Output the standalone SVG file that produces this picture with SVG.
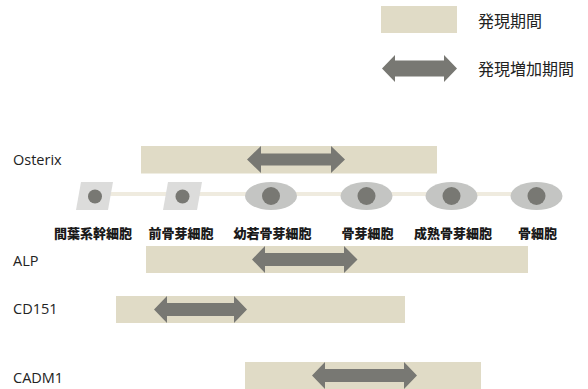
<svg xmlns="http://www.w3.org/2000/svg" width="588" height="389" viewBox="0 0 588 389">
  <style>
    .bar { fill: #e0dbc6; }
    .arr { fill: #787873; }
    .para { fill: #dcdcdb; }
    .oval { fill: #c4c5c3; }
    .nuc { fill: #787873; }
    .link { stroke: #efebdf; stroke-width: 4; fill: none; }
    .gene { font-family: "Open Sans", "Liberation Sans", sans-serif; font-size: 14.5px; fill: #222; }
    .legend { font-family: "Noto Sans CJK JP", sans-serif; font-size: 16px; fill: #222; }
    .cell { font-family: "Noto Sans CJK JP", sans-serif; font-size: 13px; font-weight: 900; fill: #1a1a1a; text-anchor: middle; }
  </style>

  <!-- legend -->
  <g id="legend-period">
    <rect class="bar" x="381" y="6" width="76" height="27"/>
    <text class="legend" x="478" y="26.5">発現期間</text>
  </g>
  <g id="legend-increase">
    <polygon class="arr" points="382,68.5 395,55 395,60.5 444,60.5 444,55 457,68.5 444,82 444,76.5 395,76.5 395,82"/>
    <text class="legend" x="478" y="75">発現増加期間</text>
  </g>

  <!-- differentiation line between cells -->
  <g id="connectors">
    <line class="link" x1="110" y1="194" x2="512" y2="194"/>
  </g>

  <!-- cell stages -->
  <g id="cell-msc">
    <polygon class="para" points="81,182 113,182 108,210 76,210"/>
    <circle class="nuc" cx="95" cy="196.5" r="7"/>
    <text class="cell" x="93" y="238">間葉系幹細胞</text>
  </g>
  <g id="cell-preob">
    <polygon class="para" points="168,182 202,182 197,210 163,210"/>
    <circle class="nuc" cx="182.5" cy="196.5" r="7"/>
    <text class="cell" x="181" y="238">前骨芽細胞</text>
  </g>
  <g id="cell-immature">
    <ellipse class="oval" cx="271" cy="196" rx="26" ry="14"/>
    <circle class="nuc" cx="271" cy="196" r="9"/>
    <text class="cell" x="272.5" y="238">幼若骨芽細胞</text>
  </g>
  <g id="cell-ob">
    <ellipse class="oval" cx="366.5" cy="196" rx="26" ry="14"/>
    <circle class="nuc" cx="366.5" cy="196" r="9"/>
    <text class="cell" x="367.5" y="238">骨芽細胞</text>
  </g>
  <g id="cell-mature">
    <ellipse class="oval" cx="451.5" cy="196" rx="26" ry="14"/>
    <circle class="nuc" cx="451.5" cy="196" r="9"/>
    <text class="cell" x="453" y="238">成熟骨芽細胞</text>
  </g>
  <g id="cell-osteocyte">
    <ellipse class="oval" cx="536.5" cy="196" rx="26" ry="14"/>
    <circle class="nuc" cx="536.5" cy="196" r="9"/>
    <text class="cell" x="537.5" y="238">骨細胞</text>
  </g>

  <!-- gene expression rows -->
  <g id="gene-osterix">
    <text class="gene" x="13" y="165">Osterix</text>
    <rect class="bar" x="141" y="146" width="296" height="27.5"/>
    <polygon class="arr" points="247,159.5 261,146 261,153.5 331,153.5 331,146 345,159.5 331,173 331,165.5 261,165.5 261,173"/>
  </g>
  <g id="gene-alp">
    <text class="gene" x="13" y="266">ALP</text>
    <rect class="bar" x="146" y="246" width="382" height="27"/>
    <polygon class="arr" points="252,259.5 265,246 265,253 344,253 344,246 357.5,259.5 344,273 344,266 265,266 265,273"/>
  </g>
  <g id="gene-cd151">
    <text class="gene" x="13" y="314">CD151</text>
    <rect class="bar" x="116" y="296" width="289" height="27"/>
    <polygon class="arr" points="154,309.5 167,296 167,303 234,303 234,296 247,309.5 234,323 234,316 167,316 167,323"/>
  </g>
  <g id="gene-cadm1">
    <text class="gene" x="13" y="382.5">CADM1</text>
    <rect class="bar" x="245" y="362" width="236" height="27"/>
    <polygon class="arr" points="312,375.5 325,362 325,369 404,369 404,362 417,375.5 404,389 404,382 325,382 325,389"/>
  </g>
</svg>
